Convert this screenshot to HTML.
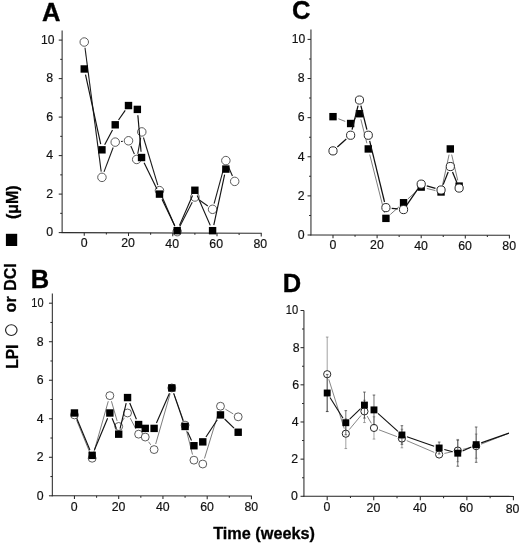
<!DOCTYPE html>
<html><head><meta charset="utf-8"><title>Figure</title>
<style>
html,body{margin:0;padding:0;background:#fff;}
body{width:520px;height:544px;overflow:hidden;font-family:"Liberation Sans", sans-serif;}
svg{display:block;filter:grayscale(1);}
</style></head>
<body>
<svg width="520" height="544" viewBox="0 0 520 544">
<rect x="0" y="0" width="520" height="544" fill="#fff"/>
<g stroke="#2a2a2a" stroke-width="1.05" fill="none" stroke-linecap="butt">
<line x1="62.12" y1="30.47" x2="62.12" y2="233.10"/>
<line x1="61.62" y1="232.60" x2="261.75" y2="233.20"/>
<line x1="58.73" y1="232.60" x2="62.12" y2="232.60"/>
<line x1="60.23" y1="213.35" x2="62.12" y2="213.35"/>
<line x1="58.73" y1="194.10" x2="62.12" y2="194.10"/>
<line x1="60.23" y1="174.85" x2="62.12" y2="174.85"/>
<line x1="58.73" y1="155.60" x2="62.12" y2="155.60"/>
<line x1="60.23" y1="136.35" x2="62.12" y2="136.35"/>
<line x1="58.73" y1="117.10" x2="62.12" y2="117.10"/>
<line x1="60.23" y1="97.85" x2="62.12" y2="97.85"/>
<line x1="58.73" y1="78.60" x2="62.12" y2="78.60"/>
<line x1="60.23" y1="59.35" x2="62.12" y2="59.35"/>
<line x1="58.73" y1="40.10" x2="62.12" y2="40.10"/>
<line x1="84.25" y1="232.67" x2="84.25" y2="235.87"/>
<line x1="106.38" y1="232.73" x2="106.38" y2="234.53"/>
<line x1="128.50" y1="232.80" x2="128.50" y2="236.00"/>
<line x1="150.62" y1="232.87" x2="150.62" y2="234.67"/>
<line x1="172.75" y1="232.93" x2="172.75" y2="236.13"/>
<line x1="194.88" y1="233.00" x2="194.88" y2="234.80"/>
<line x1="217.00" y1="233.07" x2="217.00" y2="236.27"/>
<line x1="239.12" y1="233.13" x2="239.12" y2="234.93"/>
<line x1="261.25" y1="233.20" x2="261.25" y2="236.40"/>
</g>
<g font-family='"Liberation Sans", sans-serif' font-size="12.3" fill="#111" stroke="#111" stroke-width="0.18">
<text x="53.23" y="236.45" text-anchor="end" textLength="6.85" lengthAdjust="spacingAndGlyphs">0</text>
<text x="53.23" y="197.95" text-anchor="end" textLength="6.85" lengthAdjust="spacingAndGlyphs">2</text>
<text x="53.23" y="159.45" text-anchor="end" textLength="6.85" lengthAdjust="spacingAndGlyphs">4</text>
<text x="53.23" y="120.95" text-anchor="end" textLength="6.85" lengthAdjust="spacingAndGlyphs">6</text>
<text x="53.23" y="82.45" text-anchor="end" textLength="6.85" lengthAdjust="spacingAndGlyphs">8</text>
<text x="54.42" y="43.95" text-anchor="end" textLength="13.5" lengthAdjust="spacingAndGlyphs">10</text>
<text x="84.05" y="247.20" text-anchor="middle" textLength="6.85" lengthAdjust="spacingAndGlyphs">0</text>
<text x="128.10" y="247.47" text-anchor="middle" textLength="13.7" lengthAdjust="spacingAndGlyphs">20</text>
<text x="172.15" y="247.75" text-anchor="middle" textLength="13.7" lengthAdjust="spacingAndGlyphs">40</text>
<text x="216.20" y="248.03" text-anchor="middle" textLength="13.7" lengthAdjust="spacingAndGlyphs">60</text>
<text x="260.25" y="248.30" text-anchor="middle" textLength="13.7" lengthAdjust="spacingAndGlyphs">80</text>
</g>
<text x="42.0" y="21.0" font-family='"Liberation Sans", sans-serif' font-weight="bold" font-size="25.5" fill="#000" stroke="#000" stroke-width="0.35">A</text>
<g stroke="#1c1c1c" stroke-width="1.1" fill="none" stroke-linecap="butt">
<line x1="85.00" y1="47.78" x2="101.20" y2="171.60"/>
<line x1="104.00" y1="171.93" x2="113.18" y2="147.55"/>
<line x1="121.00" y1="141.54" x2="122.73" y2="141.36"/>
<line x1="130.83" y1="146.09" x2="134.36" y2="154.14"/>
<line x1="137.74" y1="153.75" x2="140.72" y2="137.63"/>
<line x1="143.45" y1="137.48" x2="157.80" y2="185.08"/>
<line x1="161.77" y1="195.96" x2="174.88" y2="226.31"/>
<line x1="179.81" y1="226.47" x2="192.24" y2="202.15"/>
<line x1="199.64" y1="200.30" x2="207.81" y2="205.99"/>
<line x1="214.10" y1="203.71" x2="224.32" y2="166.20"/>
<line x1="228.12" y1="165.94" x2="232.43" y2="176.06"/>
</g>
<g fill="#fff" stroke="#4a4a4a" stroke-width="0.9">
<circle cx="84.25" cy="42.02" r="4.25"/>
<circle cx="101.95" cy="177.35" r="4.25"/>
<circle cx="115.22" cy="142.12" r="4.25"/>
<circle cx="128.50" cy="140.78" r="4.25"/>
<circle cx="136.69" cy="159.45" r="4.25"/>
<circle cx="141.78" cy="131.92" r="4.25"/>
<circle cx="159.47" cy="190.63" r="4.25"/>
<circle cx="177.18" cy="231.64" r="4.25"/>
<circle cx="194.88" cy="196.99" r="4.25"/>
<circle cx="212.57" cy="209.31" r="4.25"/>
<circle cx="225.85" cy="160.60" r="4.25"/>
<circle cx="234.70" cy="181.39" r="4.25"/>
</g>
<g stroke="#111" stroke-width="1.15" fill="none" stroke-linecap="butt">
<line x1="85.49" y1="74.64" x2="100.71" y2="144.16"/>
<line x1="104.67" y1="144.70" x2="112.51" y2="129.92"/>
<line x1="118.52" y1="120.03" x2="125.21" y2="110.32"/>
<line x1="137.85" y1="115.18" x2="141.05" y2="151.75"/>
<line x1="144.11" y1="162.73" x2="156.92" y2="188.89"/>
<line x1="162.00" y1="199.32" x2="174.65" y2="225.45"/>
<line x1="179.50" y1="225.36" x2="192.55" y2="195.56"/>
<line x1="197.20" y1="195.56" x2="210.25" y2="225.36"/>
<line x1="213.80" y1="225.01" x2="224.63" y2="174.74"/>
</g>
<g fill="#000">
<rect x="80.55" y="65.27" width="7.4" height="7.4"/>
<rect x="98.25" y="146.12" width="7.4" height="7.4"/>
<rect x="111.52" y="121.10" width="7.4" height="7.4"/>
<rect x="124.80" y="101.85" width="7.4" height="7.4"/>
<rect x="133.65" y="105.70" width="7.4" height="7.4"/>
<rect x="137.85" y="153.82" width="7.4" height="7.4"/>
<rect x="155.78" y="190.40" width="7.4" height="7.4"/>
<rect x="173.48" y="226.97" width="7.4" height="7.4"/>
<rect x="191.18" y="186.55" width="7.4" height="7.4"/>
<rect x="208.88" y="226.97" width="7.4" height="7.4"/>
<rect x="222.15" y="165.38" width="7.4" height="7.4"/>
</g>
<g stroke="#2a2a2a" stroke-width="1.05" fill="none" stroke-linecap="butt">
<line x1="310.95" y1="29.62" x2="310.95" y2="235.50"/>
<line x1="310.45" y1="235.00" x2="509.90" y2="235.30"/>
<line x1="307.55" y1="235.00" x2="310.95" y2="235.00"/>
<line x1="309.05" y1="215.44" x2="310.95" y2="215.44"/>
<line x1="307.55" y1="195.88" x2="310.95" y2="195.88"/>
<line x1="309.05" y1="176.32" x2="310.95" y2="176.32"/>
<line x1="307.55" y1="156.76" x2="310.95" y2="156.76"/>
<line x1="309.05" y1="137.20" x2="310.95" y2="137.20"/>
<line x1="307.55" y1="117.64" x2="310.95" y2="117.64"/>
<line x1="309.05" y1="98.08" x2="310.95" y2="98.08"/>
<line x1="307.55" y1="78.52" x2="310.95" y2="78.52"/>
<line x1="309.05" y1="58.96" x2="310.95" y2="58.96"/>
<line x1="307.55" y1="39.40" x2="310.95" y2="39.40"/>
<line x1="333.00" y1="235.03" x2="333.00" y2="238.23"/>
<line x1="355.05" y1="235.07" x2="355.05" y2="236.87"/>
<line x1="377.10" y1="235.10" x2="377.10" y2="238.30"/>
<line x1="399.15" y1="235.13" x2="399.15" y2="236.93"/>
<line x1="421.20" y1="235.17" x2="421.20" y2="238.37"/>
<line x1="443.25" y1="235.20" x2="443.25" y2="237.00"/>
<line x1="465.30" y1="235.23" x2="465.30" y2="238.43"/>
<line x1="487.35" y1="235.27" x2="487.35" y2="237.07"/>
<line x1="509.40" y1="235.30" x2="509.40" y2="238.50"/>
</g>
<g font-family='"Liberation Sans", sans-serif' font-size="12.3" fill="#111" stroke="#111" stroke-width="0.18">
<text x="304.55" y="238.85" text-anchor="end" textLength="6.85" lengthAdjust="spacingAndGlyphs">0</text>
<text x="304.55" y="199.73" text-anchor="end" textLength="6.85" lengthAdjust="spacingAndGlyphs">2</text>
<text x="304.55" y="160.61" text-anchor="end" textLength="6.85" lengthAdjust="spacingAndGlyphs">4</text>
<text x="304.55" y="121.49" text-anchor="end" textLength="6.85" lengthAdjust="spacingAndGlyphs">6</text>
<text x="304.55" y="82.37" text-anchor="end" textLength="6.85" lengthAdjust="spacingAndGlyphs">8</text>
<text x="305.35" y="43.25" text-anchor="end" textLength="13.5" lengthAdjust="spacingAndGlyphs">10</text>
<text x="332.80" y="249.10" text-anchor="middle" textLength="6.85" lengthAdjust="spacingAndGlyphs">0</text>
<text x="376.90" y="249.40" text-anchor="middle" textLength="13.7" lengthAdjust="spacingAndGlyphs">20</text>
<text x="421.00" y="249.70" text-anchor="middle" textLength="13.7" lengthAdjust="spacingAndGlyphs">40</text>
<text x="465.10" y="250.00" text-anchor="middle" textLength="13.7" lengthAdjust="spacingAndGlyphs">60</text>
<text x="509.20" y="250.30" text-anchor="middle" textLength="13.7" lengthAdjust="spacingAndGlyphs">80</text>
</g>
<text x="291.9" y="19.0" font-family='"Liberation Sans", sans-serif' font-weight="bold" font-size="25.5" fill="#000" stroke="#000" stroke-width="0.35">C</text>
<g stroke="#444" stroke-width="0.7" fill="none" stroke-linecap="butt">
<line x1="338.41" y1="118.76" x2="345.23" y2="121.41"/>
<line x1="354.52" y1="119.20" x2="355.58" y2="118.04"/>
<line x1="360.87" y1="119.35" x2="366.87" y2="143.31"/>
<line x1="369.71" y1="154.56" x2="384.49" y2="212.75"/>
<line x1="390.26" y1="214.53" x2="399.22" y2="206.57"/>
<line x1="407.90" y1="198.88" x2="416.86" y2="190.93"/>
<line x1="426.83" y1="188.47" x2="435.41" y2="190.58"/>
<line x1="442.27" y1="186.30" x2="449.09" y2="154.61"/>
<line x1="451.65" y1="154.58" x2="457.79" y2="180.46"/>
</g>
<g fill="#000">
<rect x="329.30" y="112.96" width="7.4" height="7.4"/>
<rect x="346.94" y="119.81" width="7.4" height="7.4"/>
<rect x="355.76" y="110.03" width="7.4" height="7.4"/>
<rect x="364.58" y="145.24" width="7.4" height="7.4"/>
<rect x="382.22" y="214.67" width="7.4" height="7.4"/>
<rect x="399.86" y="199.03" width="7.4" height="7.4"/>
<rect x="417.50" y="183.38" width="7.4" height="7.4"/>
<rect x="437.35" y="188.27" width="7.4" height="7.4"/>
<rect x="446.61" y="145.24" width="7.4" height="7.4"/>
<rect x="455.43" y="182.40" width="7.4" height="7.4"/>
</g>
<g stroke="#111" stroke-width="1.25" fill="none" stroke-linecap="butt">
<line x1="337.34" y1="147.04" x2="346.30" y2="139.09"/>
<line x1="352.05" y1="129.62" x2="358.05" y2="105.66"/>
<line x1="360.87" y1="105.66" x2="366.87" y2="129.62"/>
<line x1="369.65" y1="140.88" x2="384.55" y2="201.98"/>
<line x1="391.68" y1="208.26" x2="397.80" y2="208.93"/>
<line x1="406.87" y1="204.81" x2="417.89" y2="188.91"/>
<line x1="426.76" y1="185.79" x2="435.48" y2="188.37"/>
<line x1="443.17" y1="184.62" x2="448.18" y2="171.94"/>
<line x1="452.51" y1="171.91" x2="456.93" y2="182.69"/>
</g>
<g fill="#fff" stroke="#2a2a2a" stroke-width="1.0">
<circle cx="333.00" cy="150.89" r="4.1"/>
<circle cx="350.64" cy="135.24" r="4.1"/>
<circle cx="359.46" cy="100.04" r="4.1"/>
<circle cx="368.28" cy="135.24" r="4.1"/>
<circle cx="385.92" cy="207.62" r="4.1"/>
<circle cx="403.56" cy="209.57" r="4.1"/>
<circle cx="421.20" cy="184.14" r="4.1"/>
<circle cx="441.05" cy="190.01" r="4.1"/>
<circle cx="450.31" cy="166.54" r="4.1"/>
<circle cx="459.13" cy="188.06" r="4.1"/>
</g>
<g stroke="#2a2a2a" stroke-width="1.05" fill="none" stroke-linecap="butt">
<line x1="52.33" y1="293.57" x2="52.33" y2="496.30"/>
<line x1="51.83" y1="495.80" x2="251.95" y2="496.00"/>
<line x1="48.93" y1="495.80" x2="52.33" y2="495.80"/>
<line x1="50.43" y1="476.54" x2="52.33" y2="476.54"/>
<line x1="48.93" y1="457.28" x2="52.33" y2="457.28"/>
<line x1="50.43" y1="438.02" x2="52.33" y2="438.02"/>
<line x1="48.93" y1="418.76" x2="52.33" y2="418.76"/>
<line x1="50.43" y1="399.50" x2="52.33" y2="399.50"/>
<line x1="48.93" y1="380.24" x2="52.33" y2="380.24"/>
<line x1="50.43" y1="360.98" x2="52.33" y2="360.98"/>
<line x1="48.93" y1="341.72" x2="52.33" y2="341.72"/>
<line x1="50.43" y1="322.46" x2="52.33" y2="322.46"/>
<line x1="48.93" y1="303.20" x2="52.33" y2="303.20"/>
<line x1="74.45" y1="495.82" x2="74.45" y2="499.02"/>
<line x1="96.58" y1="495.84" x2="96.58" y2="497.64"/>
<line x1="118.70" y1="495.87" x2="118.70" y2="499.07"/>
<line x1="140.82" y1="495.89" x2="140.82" y2="497.69"/>
<line x1="162.95" y1="495.91" x2="162.95" y2="499.11"/>
<line x1="185.07" y1="495.93" x2="185.07" y2="497.73"/>
<line x1="207.20" y1="495.96" x2="207.20" y2="499.16"/>
<line x1="229.32" y1="495.98" x2="229.32" y2="497.78"/>
<line x1="251.45" y1="496.00" x2="251.45" y2="499.20"/>
</g>
<g font-family='"Liberation Sans", sans-serif' font-size="12.3" fill="#111" stroke="#111" stroke-width="0.18">
<text x="43.53" y="499.65" text-anchor="end" textLength="6.85" lengthAdjust="spacingAndGlyphs">0</text>
<text x="43.53" y="461.13" text-anchor="end" textLength="6.85" lengthAdjust="spacingAndGlyphs">2</text>
<text x="43.53" y="422.61" text-anchor="end" textLength="6.85" lengthAdjust="spacingAndGlyphs">4</text>
<text x="43.53" y="384.09" text-anchor="end" textLength="6.85" lengthAdjust="spacingAndGlyphs">6</text>
<text x="43.53" y="345.57" text-anchor="end" textLength="6.85" lengthAdjust="spacingAndGlyphs">8</text>
<text x="43.53" y="307.05" text-anchor="end" textLength="12.2" lengthAdjust="spacingAndGlyphs">10</text>
<text x="74.25" y="510.80" text-anchor="middle" textLength="6.85" lengthAdjust="spacingAndGlyphs">0</text>
<text x="118.50" y="510.75" text-anchor="middle" textLength="13.7" lengthAdjust="spacingAndGlyphs">20</text>
<text x="162.75" y="510.70" text-anchor="middle" textLength="13.7" lengthAdjust="spacingAndGlyphs">40</text>
<text x="207.00" y="510.65" text-anchor="middle" textLength="13.7" lengthAdjust="spacingAndGlyphs">60</text>
<text x="251.25" y="510.60" text-anchor="middle" textLength="13.7" lengthAdjust="spacingAndGlyphs">80</text>
</g>
<text x="30.8" y="287.5" font-family='"Liberation Sans", sans-serif' font-weight="bold" font-size="25.5" fill="#000" stroke="#000" stroke-width="0.35">B</text>
<g stroke="#444" stroke-width="0.7" fill="none" stroke-linecap="butt">
<line x1="76.64" y1="420.28" x2="89.96" y2="452.87"/>
<line x1="93.73" y1="452.66" x2="108.27" y2="401.23"/>
<line x1="111.45" y1="401.22" x2="117.10" y2="420.89"/>
<line x1="121.88" y1="421.62" x2="124.37" y2="417.83"/>
<line x1="130.23" y1="418.12" x2="135.93" y2="429.03"/>
<line x1="148.60" y1="441.79" x2="150.75" y2="444.84"/>
<line x1="155.70" y1="444.00" x2="170.20" y2="393.52"/>
<line x1="173.75" y1="393.41" x2="183.12" y2="419.65"/>
<line x1="186.49" y1="430.74" x2="192.51" y2="454.55"/>
<line x1="204.47" y1="458.48" x2="218.78" y2="411.79"/>
<line x1="225.45" y1="409.22" x2="233.20" y2="413.86"/>
</g>
<g fill="#fff" stroke="#4a4a4a" stroke-width="0.9">
<circle cx="74.45" cy="414.91" r="3.95"/>
<circle cx="92.15" cy="458.24" r="3.95"/>
<circle cx="109.85" cy="395.65" r="3.95"/>
<circle cx="118.70" cy="426.46" r="3.95"/>
<circle cx="127.55" cy="412.98" r="3.95"/>
<circle cx="138.61" cy="434.17" r="3.95"/>
<circle cx="145.25" cy="437.06" r="3.95"/>
<circle cx="154.10" cy="449.58" r="3.95"/>
<circle cx="171.80" cy="387.94" r="3.95"/>
<circle cx="185.07" cy="425.12" r="3.95"/>
<circle cx="193.93" cy="460.17" r="3.95"/>
<circle cx="202.77" cy="464.02" r="3.95"/>
<circle cx="220.48" cy="406.24" r="3.95"/>
<circle cx="238.18" cy="416.83" r="3.95"/>
</g>
<g stroke="#111" stroke-width="1.15" fill="none" stroke-linecap="butt">
<line x1="76.69" y1="418.33" x2="89.91" y2="450.00"/>
<line x1="94.39" y1="450.00" x2="107.61" y2="418.33"/>
<line x1="112.09" y1="418.33" x2="116.46" y2="428.82"/>
<line x1="120.06" y1="428.53" x2="126.19" y2="403.21"/>
<line x1="129.75" y1="402.94" x2="136.41" y2="419.17"/>
<line x1="156.43" y1="423.08" x2="169.47" y2="393.26"/>
<line x1="173.69" y1="393.43" x2="183.19" y2="420.98"/>
<line x1="187.50" y1="431.73" x2="191.50" y2="440.45"/>
<line x1="205.96" y1="437.02" x2="217.29" y2="419.76"/>
<line x1="224.62" y1="418.97" x2="234.03" y2="428.18"/>
</g>
<g fill="#000">
<rect x="70.75" y="409.28" width="7.4" height="7.4"/>
<rect x="88.45" y="451.65" width="7.4" height="7.4"/>
<rect x="106.15" y="409.28" width="7.4" height="7.4"/>
<rect x="115.00" y="430.47" width="7.4" height="7.4"/>
<rect x="123.85" y="393.87" width="7.4" height="7.4"/>
<rect x="134.91" y="420.84" width="7.4" height="7.4"/>
<rect x="141.55" y="424.69" width="7.4" height="7.4"/>
<rect x="150.40" y="424.69" width="7.4" height="7.4"/>
<rect x="168.10" y="384.24" width="7.4" height="7.4"/>
<rect x="181.38" y="422.76" width="7.4" height="7.4"/>
<rect x="190.23" y="442.02" width="7.4" height="7.4"/>
<rect x="199.07" y="438.17" width="7.4" height="7.4"/>
<rect x="216.78" y="411.21" width="7.4" height="7.4"/>
<rect x="234.48" y="428.54" width="7.4" height="7.4"/>
</g>
<g stroke="#2a2a2a" stroke-width="1.05" fill="none" stroke-linecap="butt">
<line x1="303.93" y1="310.50" x2="303.93" y2="496.80"/>
<line x1="303.43" y1="496.30" x2="513.90" y2="496.40"/>
<line x1="300.53" y1="496.30" x2="303.93" y2="496.30"/>
<line x1="302.03" y1="477.72" x2="303.93" y2="477.72"/>
<line x1="300.53" y1="459.14" x2="303.93" y2="459.14"/>
<line x1="302.03" y1="440.56" x2="303.93" y2="440.56"/>
<line x1="300.53" y1="421.98" x2="303.93" y2="421.98"/>
<line x1="302.03" y1="403.40" x2="303.93" y2="403.40"/>
<line x1="300.53" y1="384.82" x2="303.93" y2="384.82"/>
<line x1="302.03" y1="366.24" x2="303.93" y2="366.24"/>
<line x1="300.53" y1="347.66" x2="303.93" y2="347.66"/>
<line x1="302.03" y1="329.08" x2="303.93" y2="329.08"/>
<line x1="300.53" y1="310.50" x2="303.93" y2="310.50"/>
<line x1="327.20" y1="496.31" x2="327.20" y2="500.21"/>
<line x1="350.47" y1="496.32" x2="350.47" y2="498.12"/>
<line x1="373.75" y1="496.33" x2="373.75" y2="500.23"/>
<line x1="397.02" y1="496.34" x2="397.02" y2="498.14"/>
<line x1="420.30" y1="496.36" x2="420.30" y2="500.26"/>
<line x1="443.57" y1="496.37" x2="443.57" y2="498.17"/>
<line x1="466.85" y1="496.38" x2="466.85" y2="500.28"/>
<line x1="490.12" y1="496.39" x2="490.12" y2="498.19"/>
<line x1="513.40" y1="496.40" x2="513.40" y2="500.30"/>
</g>
<g font-family='"Liberation Sans", sans-serif' font-size="12.3" fill="#111" stroke="#111" stroke-width="0.18">
<text x="297.73" y="500.15" text-anchor="end" textLength="6.85" lengthAdjust="spacingAndGlyphs">0</text>
<text x="298.17" y="462.99" text-anchor="end" textLength="6.85" lengthAdjust="spacingAndGlyphs">2</text>
<text x="298.61" y="425.83" text-anchor="end" textLength="6.85" lengthAdjust="spacingAndGlyphs">4</text>
<text x="299.05" y="388.67" text-anchor="end" textLength="6.85" lengthAdjust="spacingAndGlyphs">6</text>
<text x="299.49" y="351.51" text-anchor="end" textLength="6.85" lengthAdjust="spacingAndGlyphs">8</text>
<text x="298.18" y="314.35" text-anchor="end" textLength="12.4" lengthAdjust="spacingAndGlyphs">10</text>
<text x="327.00" y="511.25" text-anchor="middle" textLength="6.85" lengthAdjust="spacingAndGlyphs">0</text>
<text x="373.40" y="511.62" text-anchor="middle" textLength="13.7" lengthAdjust="spacingAndGlyphs">20</text>
<text x="419.80" y="512.00" text-anchor="middle" textLength="13.7" lengthAdjust="spacingAndGlyphs">40</text>
<text x="466.20" y="512.38" text-anchor="middle" textLength="13.7" lengthAdjust="spacingAndGlyphs">60</text>
<text x="512.60" y="512.75" text-anchor="middle" textLength="13.7" lengthAdjust="spacingAndGlyphs">80</text>
</g>
<text x="282.8" y="291.5" font-family='"Liberation Sans", sans-serif' font-weight="bold" font-size="25.5" fill="#000" stroke="#000" stroke-width="0.35">D</text>
<g stroke="#7a7a7a" stroke-width="0.7" fill="none">
<line x1="327.20" y1="337.07" x2="327.20" y2="411.39"/>
<line x1="325.90" y1="337.07" x2="328.50" y2="337.07"/>
<line x1="325.90" y1="411.39" x2="328.50" y2="411.39"/>
<line x1="345.82" y1="418.82" x2="345.82" y2="448.55"/>
<line x1="344.52" y1="418.82" x2="347.12" y2="418.82"/>
<line x1="344.52" y1="448.55" x2="347.12" y2="448.55"/>
<line x1="364.44" y1="400.24" x2="364.44" y2="422.54"/>
<line x1="363.14" y1="400.24" x2="365.74" y2="400.24"/>
<line x1="363.14" y1="422.54" x2="365.74" y2="422.54"/>
<line x1="373.98" y1="416.78" x2="373.98" y2="439.07"/>
<line x1="372.68" y1="416.78" x2="375.28" y2="416.78"/>
<line x1="372.68" y1="439.07" x2="375.28" y2="439.07"/>
<line x1="401.91" y1="429.23" x2="401.91" y2="447.81"/>
<line x1="400.61" y1="429.23" x2="403.21" y2="429.23"/>
<line x1="400.61" y1="447.81" x2="403.21" y2="447.81"/>
<line x1="439.15" y1="451.71" x2="439.15" y2="457.28"/>
<line x1="437.85" y1="451.71" x2="440.45" y2="451.71"/>
<line x1="437.85" y1="457.28" x2="440.45" y2="457.28"/>
<line x1="457.77" y1="439.45" x2="457.77" y2="461.74"/>
<line x1="456.47" y1="439.45" x2="459.07" y2="439.45"/>
<line x1="456.47" y1="461.74" x2="459.07" y2="461.74"/>
<line x1="476.16" y1="434.06" x2="476.16" y2="458.21"/>
<line x1="474.86" y1="434.06" x2="477.46" y2="434.06"/>
<line x1="474.86" y1="458.21" x2="477.46" y2="458.21"/>
</g>
<g stroke="#444" stroke-width="0.65" fill="none" stroke-linecap="butt">
<line x1="328.78" y1="379.29" x2="344.24" y2="428.63"/>
<line x1="349.22" y1="429.62" x2="361.04" y2="415.46"/>
<line x1="367.09" y1="415.98" x2="371.33" y2="423.34"/>
<line x1="378.94" y1="429.80" x2="396.96" y2="436.64"/>
<line x1="406.78" y1="440.61" x2="434.28" y2="452.41"/>
<line x1="444.34" y1="453.41" x2="452.59" y2="451.68"/>
<line x1="462.92" y1="449.34" x2="471.01" y2="447.38"/>
<line x1="481.09" y1="444.18" x2="508.98" y2="433.13"/>
</g>
<g fill="#fff" stroke="#262626" stroke-width="1.0">
<circle cx="327.20" cy="374.23" r="3.6"/>
<circle cx="345.82" cy="433.69" r="3.6"/>
<circle cx="364.44" cy="411.39" r="3.6"/>
<circle cx="373.98" cy="427.93" r="3.6"/>
<circle cx="401.91" cy="438.52" r="3.6"/>
<circle cx="439.15" cy="454.50" r="3.6"/>
<circle cx="457.77" cy="450.59" r="3.6"/>
<circle cx="476.16" cy="446.13" r="3.6"/>
</g>
<g stroke="#333" stroke-width="0.7" fill="none">
<line x1="327.20" y1="374.42" x2="327.20" y2="411.58"/>
<line x1="325.90" y1="374.42" x2="328.50" y2="374.42"/>
<line x1="325.90" y1="411.58" x2="328.50" y2="411.58"/>
<line x1="345.82" y1="410.65" x2="345.82" y2="434.80"/>
<line x1="344.52" y1="410.65" x2="347.12" y2="410.65"/>
<line x1="344.52" y1="434.80" x2="347.12" y2="434.80"/>
<line x1="364.44" y1="392.07" x2="364.44" y2="418.08"/>
<line x1="363.14" y1="392.07" x2="365.74" y2="392.07"/>
<line x1="363.14" y1="418.08" x2="365.74" y2="418.08"/>
<line x1="373.98" y1="395.04" x2="373.98" y2="424.77"/>
<line x1="372.68" y1="395.04" x2="375.28" y2="395.04"/>
<line x1="372.68" y1="424.77" x2="375.28" y2="424.77"/>
<line x1="401.91" y1="425.70" x2="401.91" y2="444.28"/>
<line x1="400.61" y1="425.70" x2="403.21" y2="425.70"/>
<line x1="400.61" y1="444.28" x2="403.21" y2="444.28"/>
<line x1="439.15" y1="442.05" x2="439.15" y2="453.94"/>
<line x1="437.85" y1="442.05" x2="440.45" y2="442.05"/>
<line x1="437.85" y1="453.94" x2="440.45" y2="453.94"/>
<line x1="457.77" y1="440.19" x2="457.77" y2="466.20"/>
<line x1="456.47" y1="440.19" x2="459.07" y2="440.19"/>
<line x1="456.47" y1="466.20" x2="459.07" y2="466.20"/>
<line x1="476.16" y1="427.00" x2="476.16" y2="462.30"/>
<line x1="474.86" y1="427.00" x2="477.46" y2="427.00"/>
<line x1="474.86" y1="462.30" x2="477.46" y2="462.30"/>
</g>
<g stroke="#111" stroke-width="1.1" fill="none" stroke-linecap="butt">
<line x1="330.01" y1="397.49" x2="343.01" y2="418.23"/>
<line x1="349.67" y1="419.08" x2="360.59" y2="408.72"/>
<line x1="377.93" y1="413.44" x2="397.97" y2="431.44"/>
<line x1="406.92" y1="436.73" x2="434.15" y2="446.24"/>
<line x1="444.26" y1="449.42" x2="452.67" y2="451.77"/>
<line x1="462.58" y1="450.96" x2="471.35" y2="446.88"/>
<line x1="481.16" y1="442.89" x2="508.98" y2="433.13"/>
</g>
<g fill="#000">
<rect x="323.75" y="389.55" width="6.9" height="6.9"/>
<rect x="342.37" y="419.27" width="6.9" height="6.9"/>
<rect x="360.99" y="401.62" width="6.9" height="6.9"/>
<rect x="370.53" y="406.45" width="6.9" height="6.9"/>
<rect x="398.46" y="431.54" width="6.9" height="6.9"/>
<rect x="435.70" y="444.54" width="6.9" height="6.9"/>
<rect x="454.32" y="449.74" width="6.9" height="6.9"/>
<rect x="472.71" y="441.20" width="6.9" height="6.9"/>
</g>
<text x="213.2" y="538.5" font-family='"Liberation Sans", sans-serif' font-weight="bold" font-size="16.2" fill="#000" stroke="#000" stroke-width="0.3" textLength="101.8" lengthAdjust="spacingAndGlyphs">Time (weeks)</text>
<text transform="translate(17.6,368.7) rotate(-90)" font-family='"Liberation Sans", sans-serif' font-weight="bold" font-size="16" fill="#000" stroke="#000" stroke-width="0.3" textLength="24.1" lengthAdjust="spacingAndGlyphs">LPI</text>
<ellipse cx="11.3" cy="330.1" rx="5.75" ry="5.35" fill="#fff" stroke="#222" stroke-width="1.15"/>
<text transform="translate(16.35,312.45) rotate(-90)" font-family='"Liberation Sans", sans-serif' font-weight="bold" font-size="16" fill="#000" stroke="#000" stroke-width="0.3" textLength="16.3" lengthAdjust="spacingAndGlyphs">or</text>
<text transform="translate(16.2,290.8) rotate(-90)" font-family='"Liberation Sans", sans-serif' font-weight="bold" font-size="16" fill="#000" stroke="#000" stroke-width="0.3" textLength="27.5" lengthAdjust="spacingAndGlyphs">DCI</text>
<rect x="5.9" y="233.8" width="11.3" height="12.2" fill="#000"/>
<text transform="translate(17.7,219.0) rotate(-90)" font-family='"Liberation Sans", sans-serif' font-weight="bold" font-size="16" fill="#000" stroke="#000" stroke-width="0.3" textLength="33.5" lengthAdjust="spacingAndGlyphs">(μM)</text>
</svg>
</body></html>
